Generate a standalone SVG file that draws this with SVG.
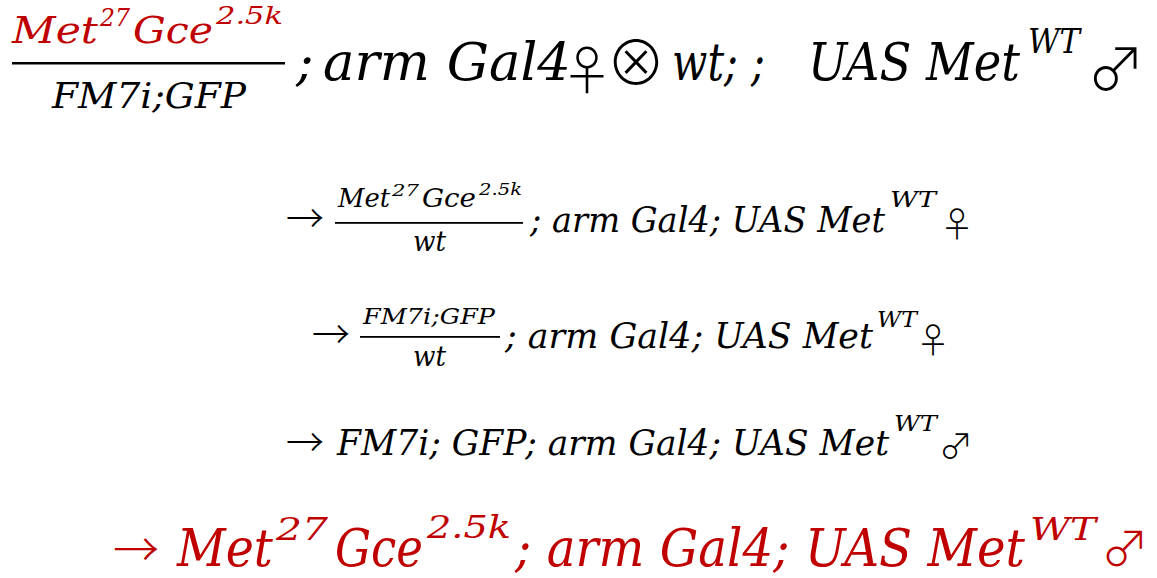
<svg xmlns="http://www.w3.org/2000/svg" width="1157" height="578" viewBox="0 0 1157 578">
<style>
.m{font-family:"DejaVu Serif","Liberation Serif",serif;font-style:italic;fill:#000}
.c{font-family:"Noto Sans CJK JP","DejaVu Sans",sans-serif;font-weight:300;fill:#000;text-anchor:middle}
.r{fill:#C00000}
.bar{fill:#000}
</style>
<rect width="1157" height="578" fill="#fff"/>
<g id="cross">
<text class="m r" x="12" y="43" font-size="38" textLength="86" lengthAdjust="spacingAndGlyphs">Met</text>
<text class="m r" x="100" y="26" font-size="25" textLength="30" lengthAdjust="spacingAndGlyphs">27</text>
<text class="m r" x="133" y="43" font-size="38" textLength="80" lengthAdjust="spacingAndGlyphs">Gce</text>
<text class="m r" x="216" y="24" font-size="25" textLength="67" lengthAdjust="spacingAndGlyphs">2.5k</text>
<rect class="bar" x="12" y="62" width="273" height="2.5"/>
<text class="m" x="52" y="108" font-size="36" textLength="194" lengthAdjust="spacingAndGlyphs">FM7i;GFP</text>
<text class="m" x="296" y="80" font-size="52">;</text>
<text class="m" x="323" y="80" font-size="52" textLength="248" lengthAdjust="spacingAndGlyphs">arm Gal4</text>
<text class="c" x="587" y="90" font-size="52">♀</text>
<text class="c" x="636" y="85" font-size="60">⊗</text>
<text class="m" x="672" y="80" font-size="52" textLength="93" lengthAdjust="spacingAndGlyphs">wt; ;</text>
<text class="m" x="808" y="80" font-size="52" textLength="212" lengthAdjust="spacingAndGlyphs">UAS Met</text>
<text class="m" x="1028" y="53" font-size="33" textLength="52" lengthAdjust="spacingAndGlyphs">WT</text>
<text class="c" x="1116" y="90" font-size="58">♂</text>
</g>
<g id="offspring1">
<text class="c" x="305" y="232" font-size="38">→</text>
<text class="m" x="338" y="207" font-size="26" textLength="52" lengthAdjust="spacingAndGlyphs">Met</text>
<text class="m" x="392" y="196" font-size="17" textLength="27" lengthAdjust="spacingAndGlyphs">27</text>
<text class="m" x="422" y="207" font-size="26" textLength="54" lengthAdjust="spacingAndGlyphs">Gce</text>
<text class="m" x="479" y="195" font-size="17" textLength="43" lengthAdjust="spacingAndGlyphs">2.5k</text>
<rect class="bar" x="335" y="222" width="188" height="1.8"/>
<text class="m" x="413" y="251" font-size="28" textLength="33" lengthAdjust="spacingAndGlyphs">wt</text>
<text class="m" x="530" y="232" font-size="36" textLength="355" lengthAdjust="spacingAndGlyphs">; arm Gal4; UAS Met</text>
<text class="m" x="890" y="207" font-size="23" textLength="46" lengthAdjust="spacingAndGlyphs">WT</text>
<text class="c" x="957" y="237" font-size="34">♀</text>
</g>
<g id="offspring2">
<text class="c" x="331" y="348" font-size="38">→</text>
<text class="m" x="363" y="324" font-size="22" textLength="132" lengthAdjust="spacingAndGlyphs">FM7i;GFP</text>
<rect class="bar" x="360" y="336" width="140" height="1.8"/>
<text class="m" x="413" y="366" font-size="28" textLength="33" lengthAdjust="spacingAndGlyphs">wt</text>
<text class="m" x="505" y="348" font-size="36" textLength="368" lengthAdjust="spacingAndGlyphs">; arm Gal4; UAS Met</text>
<text class="m" x="877" y="327" font-size="23" textLength="40" lengthAdjust="spacingAndGlyphs">WT</text>
<text class="c" x="933" y="353" font-size="34">♀</text>
</g>
<g id="offspring3">
<text class="c" x="305" y="456" font-size="38">→</text>
<text class="m" x="337" y="455" font-size="36" textLength="552" lengthAdjust="spacingAndGlyphs">FM7i; GFP; arm Gal4; UAS Met</text>
<text class="m" x="894" y="431" font-size="23" textLength="43" lengthAdjust="spacingAndGlyphs">WT</text>
<text class="c" x="956" y="459" font-size="34">♂</text>
</g>
<g id="offspring4">
<text class="c r" x="136" y="566" font-size="46">→</text>
<text class="m r" x="177" y="566" font-size="53" textLength="96" lengthAdjust="spacingAndGlyphs">Met</text>
<text class="m r" x="276" y="540" font-size="32" textLength="52" lengthAdjust="spacingAndGlyphs">27</text>
<text class="m r" x="335" y="566" font-size="53" textLength="88" lengthAdjust="spacingAndGlyphs">Gce</text>
<text class="m r" x="427" y="538" font-size="32" textLength="84" lengthAdjust="spacingAndGlyphs">2.5k</text>
<text class="m r" x="515" y="566" font-size="53" textLength="510" lengthAdjust="spacingAndGlyphs">; arm Gal4; UAS Met</text>
<text class="m r" x="1030" y="540" font-size="32" textLength="66" lengthAdjust="spacingAndGlyphs">WT</text>
<text class="c r" x="1125" y="566" font-size="48">♂</text>
</g>
</svg>
